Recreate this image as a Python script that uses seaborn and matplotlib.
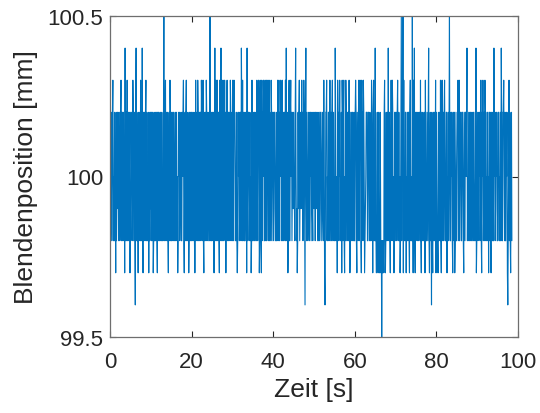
import numpy as np
import pandas as pd
import matplotlib
matplotlib.use("Agg")
import matplotlib.pyplot as plt
import seaborn as sns

# Level codes: a=99.5, b=99.6, c=99.7, d=99.8, e=99.9, f=100.0,
#              g=100.1, h=100.2, i=100.3, j=100.4, k=100.5
level_codes = "abcdefghijk"
level_values = [99.5, 99.6, 99.7, 99.8, 99.9, 100.0, 100.1, 100.2, 100.3, 100.4, 100.5]

# samples every 0.1 s (5 s per line)
signal_codes = [
    "hdehdfhidf" "dhdfchdfhe" "hdfhdehidh" "dhehdfcjdh" "hdidfhdhec",
    "dhhfdeihdf" "hdbhjdhdfc" "hdfhdidhdj" "dchdhedhid" "hdfdhcfdhe",
    "hdhdhfcdhd" "dhdfhdchhd" "hdfdhedhdf" "dhkfdhidfh" "dhdcfhdihd",
    "dhdfhdhfde" "hdehdfcdhf" "hdefhddhfh" "idcfhdhidf" "dhfcdhgdhd",
    "hdfhdehdcd" "idfhdihdeh" "dhhdihfdid" "chdfhdihde" "hdfhdkfdhd",
    "dhedhcfjdh" "idhidhhdci" "dhjdihdidh" "fidhcfhidh" "hdhedihdeh",
    "dihdihhfdd" "hdcdhfhdeh" "hdjhdidehd" "dhfdhcjdfh" "hdehdfcdid",
    "hdfhdhdfhd" "ifdhihcdid" "dcidhfihdd" "ihdidfhidh" "idhfdihdfh",
    "hdehhfddhd" "eidhidhfih" "dhidfdhfhd" "idjfdhcdhi" "ddhifhdfhe",
    "hfedhjfdec" "dhehidfhef" "iehdfihebh" "jfdhfdehfd" "hfhdfhedhf",
    "efhdhfehfd" "hdfhdehhfd" "fhedifcbeh" "hidfdhhdfi" "dfhdhidfhd",
    "fdjhdefcih" "dhfidfdhci" "hdhidcfdih" "dfhdhdifcd" "hfdhhdfdhd",
    "dhihdchfdh" "idhihdcifh" "dihfcdefhh" "hddhhfdhdf" "dihfchidfd",
    "jddcfhdchd" "dchfcdadcd" "dchidcdhdf" "hdjfdhdchi" "hdihdfcdhh",
    "dfhdhifdhd" "fcdhkdhfkc" "idfdhhcfdh" "dhhdchidfd" "dkfcidjdch",
    "dhehdfdhfh" "didchfdhdf" "dhcifddhfd" "hjdcfhdebh" "dcfhdhdfic",
    "hfddchdfhd" "idchidfhdh" "ifddhhcfdh" "dhkfddhfhd" "cfhdhcdfhd",
    "dfhihdidfh" "hddhhfdchf" "dhhfhjdfdh" "fdhdhfdhdf" "hdhfddfjcd",
    "fhdehfhdfi" "dchfidehdi" "hdfdhhdfch" "hdhdchfdhd" "djfhdehfhd",
    "dfhhdfdhdj" "hddhhifdhd" "dhfhcbdfid" "hdcfhd",
]
sample_step = 0.1

x_ticks = [0, 20, 40, 60, 80, 100]
y_ticks = [99.5, 100.0, 100.5]
y_tick_labels = ["99.5", "100", "100.5"]
x_label = "Zeit [s]"
y_label = "Blendenposition [mm]"

codes = "".join(signal_codes)
lookup = dict(zip(level_codes, level_values))
values = [lookup[c] for c in codes]
times = np.arange(len(values)) * sample_step
df = pd.DataFrame({"Zeit": times, "Position": values})

sns.set_theme(style="white")
plt.rcParams["font.family"] = ["Liberation Sans", "DejaVu Sans"]

fig = plt.figure(figsize=(5.4, 4.14), dpi=100)
ax = fig.add_axes([110 / 540, 1 - 338 / 414, 408 / 540, 321 / 414])

sns.lineplot(data=df, x="Zeit", y="Position", ax=ax, color="#0072BD",
             linewidth=0.8, estimator=None, sort=False)

ax.set_xlim(0, 100)
ax.set_ylim(99.5, 100.5)
ax.set_xticks(x_ticks)
ax.set_xticklabels([str(v) for v in x_ticks])
ax.set_yticks(y_ticks)
ax.set_yticklabels(y_tick_labels)

spine_color = "#6e6e6e"
for s in ax.spines.values():
    s.set_visible(True)
    s.set_color(spine_color)
    s.set_linewidth(0.9)

ax.tick_params(axis="both", direction="in", length=4, width=0.8,
               color="#262626", labelsize=16, labelcolor="#262626",
               top=True, right=True, bottom=True, left=True)
ax.tick_params(axis="x", pad=10)
ax.tick_params(axis="y", pad=5)

ax.set_xlabel(x_label, fontsize=19, color="#262626", labelpad=4)
ax.set_ylabel(y_label, fontsize=19, color="#262626", labelpad=7)

fig.savefig("out.png", dpi=100, facecolor="white")
